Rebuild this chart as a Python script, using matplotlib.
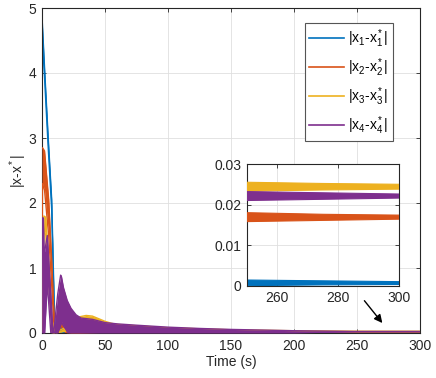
import numpy as np
import matplotlib
matplotlib.use("Agg")
import matplotlib.pyplot as plt
from matplotlib.lines import Line2D

plt.rcParams["font.family"] = ["Liberation Sans", "DejaVu Sans"]
plt.rcParams["mathtext.fontset"] = "custom"
plt.rcParams["mathtext.rm"] = "Liberation Sans"
plt.rcParams["mathtext.it"] = "Liberation Sans"

# envelopes (lower / upper) of each error signal
t1 = [0, 2.1, 4.8, 7.7, 9.5, 10.5, 13.5, 16, 19, 21, 30, 50, 100, 150, 200, 250, 275, 300]
hi1 = [4.87, 4.05, 3.05, 2.05, 0.6, 0.0, 0.0, 0.1, 0.0, 0.0, 0.02, 0.01, 0.005, 0.003, 0.002, 0.0014, 0.0012, 0.001]
lo1 = [4.6, 3.9, 2.9, 1.9, 0.4, 0.0, 0.0, 0.0, 0.0, 0.0, 0.0, 0.0, 0.0, 0.0, 0.0, 0.0, 0.0002, 0.0003]

t2 = [0, 0.4, 2, 5.3, 7.5, 9.5, 10.3, 12.5, 15.5, 18.5, 20.5, 30, 50, 100, 150, 200, 250, 275, 300]
hi2 = [2.85, 2.85, 2.8, 2.05, 1.2, 0.3, 0.0, 0.0, 0.16, 0.05, 0.0, 0.03, 0.025, 0.02, 0.018, 0.018, 0.018, 0.0176, 0.0174]
lo2 = [0.3, 2.3, 2.2, 1.5, 0.8, 0.1, 0.0, 0.0, 0.11, 0.01, 0.0, 0.0, 0.01, 0.015, 0.016, 0.016, 0.0158, 0.0161, 0.0164]

t3 = [0, 0.5, 1.5, 3, 4.5, 8, 10, 25, 30, 35, 40, 45, 50, 55, 60, 100, 150, 200, 250, 275, 300]
hi3 = [0.3, 1.0, 1.8, 1.78, 1.3, 0.2, 0.0, 0.15, 0.25, 0.27, 0.26, 0.22, 0.18, 0.15, 0.13, 0.08, 0.05, 0.035, 0.0255, 0.0252, 0.025]
lo3 = [0.0, 0.5, 1.6, 1.5, 1.0, 0.0, 0.0, 0.05, 0.1, 0.12, 0.12, 0.1, 0.08, 0.07, 0.06, 0.04, 0.03, 0.025, 0.0233, 0.0236, 0.0238]

t4 = [0, 0.3, 1.1, 1.6, 2.1, 4.2, 7.0, 8.7, 9.5, 12.5, 14.8, 15.5, 17, 18.5, 20, 20.5, 23, 27, 31, 40, 50, 60, 75, 100, 125, 150, 175, 200, 250, 275, 300]
hi4 = [0.0, 1.77, 1.77, 1.3, 1.25, 1.5, 0.6, 0.0, 0.05, 0.6, 0.89, 0.86, 0.7, 0.6, 0.5, 0.48, 0.38, 0.28, 0.23, 0.21, 0.16, 0.14, 0.12, 0.09, 0.07, 0.055, 0.045, 0.035, 0.0232, 0.0229, 0.0226]
lo4 = [0.0, 0.0, 0.0, 0.0, 0.0, 0.77, 0.0, 0.0, 0.0, 0.0, 0.12, 0.17, 0.11, 0.07, 0.02, 0.0, 0.0, 0.0, 0.0, 0.0, 0.0, 0.0, 0.0, 0.0, 0.0, 0.0, 0.0, 0.0, 0.021, 0.0213, 0.0216]

labels = [r"|x$_1$-x$_1^*$|", r"|x$_2$-x$_2^*$|", r"|x$_3$-x$_3^*$|", r"|x$_4$-x$_4^*$|"]
colors = ["#0072BD", "#D95319", "#EDB120", "#7E2F8E"]
series = [(t1, lo1, hi1), (t2, lo2, hi2), (t3, lo3, hi3), (t4, lo4, hi4)]

xticks = [0, 50, 100, 150, 200, 250, 300]
yticks = [0, 1, 2, 3, 4, 5]
zoom_xticks = [260, 280, 300]
zoom_yticks = [0, 0.01, 0.02, 0.03]

axc = "#262626"


def draw(ax, lw):
    for k, (t, lo, hi) in enumerate(series):
        ax.fill_between(t, lo, hi, color=colors[k], lw=0, zorder=2 + k)
        ax.plot(t, hi, color=colors[k], lw=lw, zorder=2 + k)
        ax.plot(t, lo, color=colors[k], lw=lw, zorder=2 + k)


def style(ax):
    ax.grid(True, color="#dfdfdf", lw=0.6)
    ax.set_axisbelow(True)
    ax.tick_params(direction="in", top=True, right=True, length=3, width=0.6,
                   colors=axc, labelsize=10, pad=4)
    for s in ax.spines.values():
        s.set_color(axc)
        s.set_linewidth(0.8)


fig = plt.figure(figsize=(4.36, 3.78), dpi=100)
ax = fig.add_axes([42 / 436, 45 / 378, 378 / 436, 325 / 378])
draw(ax, 1.0)
ax.set_xlim(0, 300)
ax.set_ylim(0, 5)
ax.set_xticks(xticks)
ax.set_yticks(yticks)
style(ax)
ax.set_xlabel("Time (s)", fontsize=10, color=axc, labelpad=2)
ax.set_ylabel(r"|x-x$^*$|", fontsize=10, color=axc, labelpad=0)

handles = [Line2D([], [], color=c, lw=1.2) for c in colors]
leg = ax.legend(handles, labels, loc="upper right", bbox_to_anchor=(0.929, 0.955),
                borderaxespad=0, fontsize=10, handlelength=2.5, labelspacing=0.45,
                borderpad=0.35, handletextpad=0.3, fancybox=False, framealpha=1)
leg.get_frame().set_edgecolor("#555555")
leg.get_frame().set_linewidth(0.8)

ax.annotate("", xy=(271.5, 0.12), xytext=(254.5, 0.53),
            arrowprops=dict(arrowstyle="-|>", color="k", lw=1.0, mutation_scale=12))

axi = fig.add_axes([247 / 436, (378 - 285.7) / 378, 152 / 436, 121.7 / 378])
draw(axi, 0.8)
axi.set_xlim(250, 300)
axi.set_ylim(0, 0.03)
axi.set_xticks(zoom_xticks)
axi.set_yticks(zoom_yticks)
axi.set_yticklabels(["0", "0.01", "0.02", "0.03"])
style(axi)
axi.set_facecolor("white")

fig.savefig("out.png", dpi=100)
